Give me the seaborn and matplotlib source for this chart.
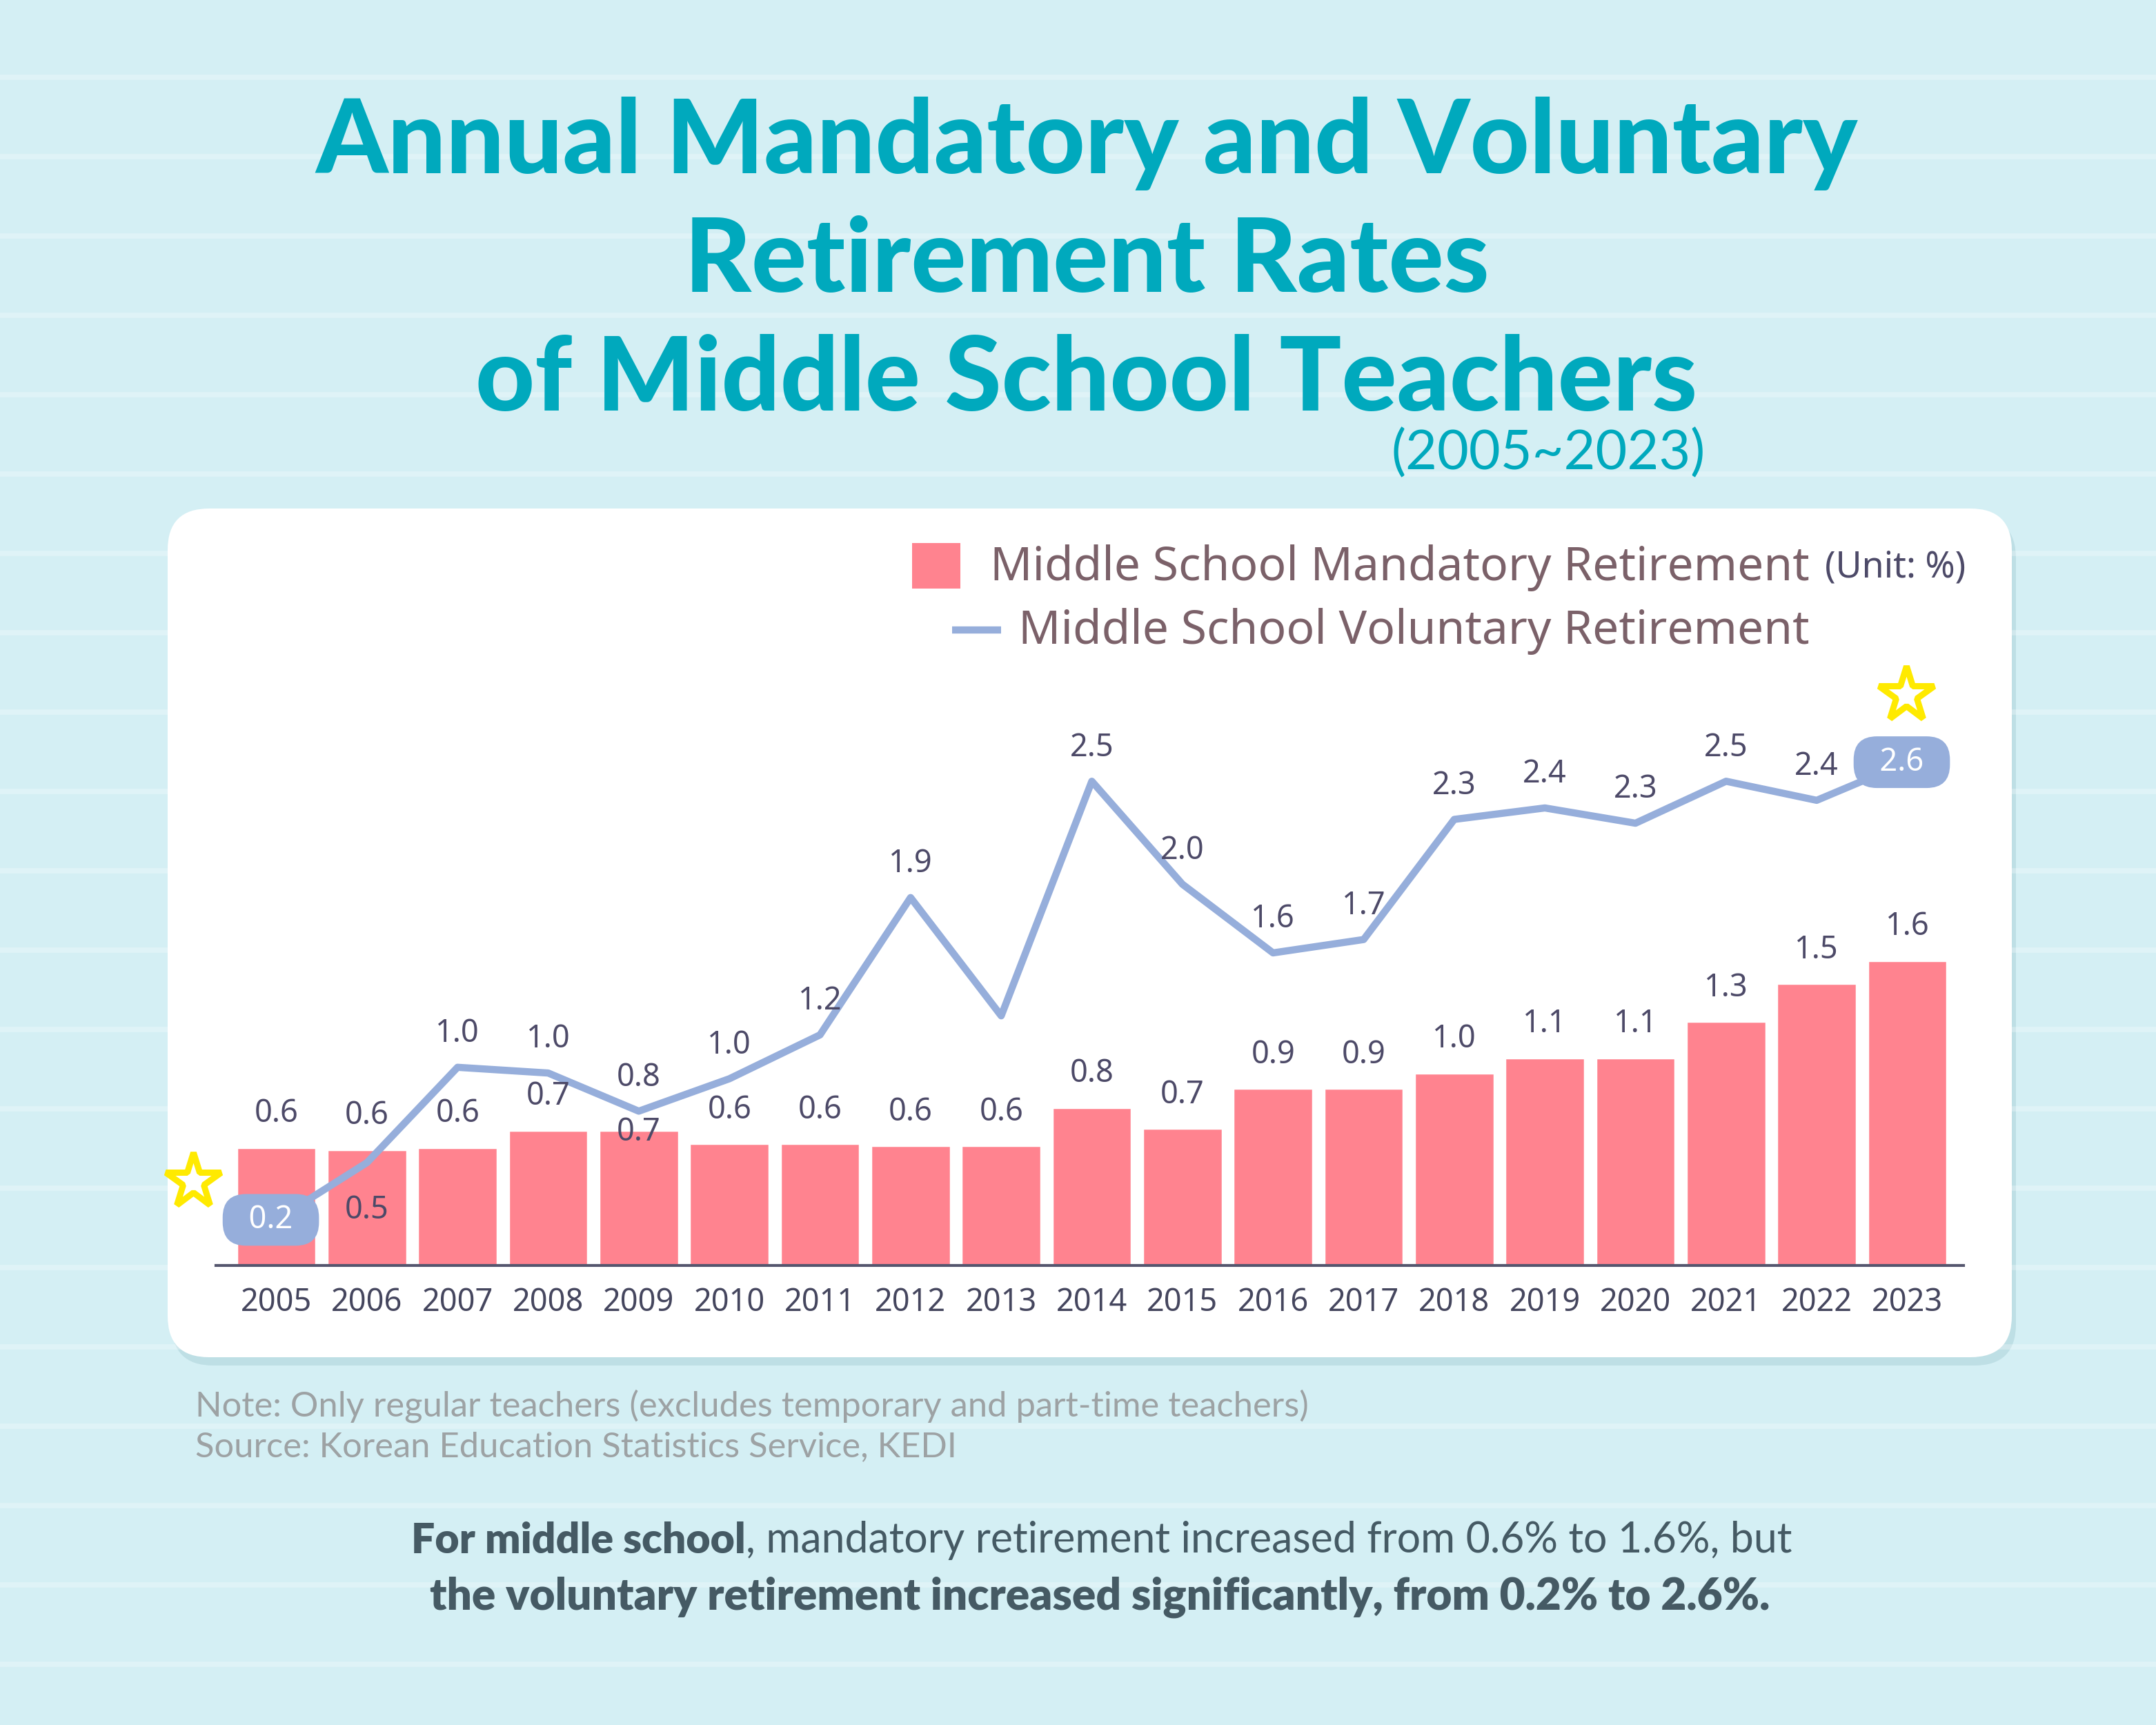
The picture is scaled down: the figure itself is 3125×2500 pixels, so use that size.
import numpy as np
import pandas as pd
import seaborn as sns
import matplotlib.pyplot as plt
from matplotlib.patches import FancyBboxPatch, Rectangle

# data (unit: %)
years = [str(y) for y in range(2005, 2024)]
mandatory = [0.62, 0.61, 0.62, 0.71, 0.71, 0.64, 0.64, 0.63, 0.63, 0.83,
             0.72, 0.93, 0.93, 1.01, 1.09, 1.09, 1.28, 1.48, 1.60]
voluntary = [0.24, 0.54, 1.04, 1.01, 0.81, 0.98, 1.21, 1.93, 1.31, 2.54,
             2.00, 1.64, 1.71, 2.34, 2.40, 2.32, 2.54, 2.44, 2.64]

title_lines = ["Annual Mandatory and Voluntary", "Retirement Rates", "of Middle School Teachers"]
subtitle = "(2005~2023)"
legend_bar = "Middle School Mandatory Retirement"
legend_line = "Middle School Voluntary Retirement"
unit = "(Unit: %)"
note = "Note: Only regular teachers (excludes temporary and part-time teachers)"
source = "Source: Korean Education Statistics Service, KEDI"
summary_bold = "For middle school"
summary_rest = ", mandatory retirement increased from 0.6% to 1.6%, but"
summary_2 = "the voluntary retirement increased significantly, from 0.2% to 2.6%."

BG = "#d4eff4"
TEAL = "#00a9bd"
PINK = "#ff838f"
BLUE = "#96aedb"
NUM = "#4d4a68"
LEG = "#7b6169"
DARK = "#455a64"

sns.set_style("white")
plt.rcParams["font.family"] = ["Noto Sans", "DejaVu Sans"]

df = pd.DataFrame({"year": years, "mandatory": mandatory, "voluntary": voluntary})
df["pos"] = np.arange(len(df))

fig = plt.figure(figsize=(12.5, 10), dpi=250)
fig.patch.set_facecolor(BG)

# background (pixel coords, origin top-left)
bg = fig.add_axes([0, 0, 1, 1], zorder=-10)
bg.set_xlim(0, 3125)
bg.set_ylim(2500, 0)
bg.axis("off")
for y in np.arange(112, 2500, 115):
    bg.axhline(y, color="white", alpha=0.28, lw=2.2)
bg.add_patch(FancyBboxPatch((249, 749), 2673, 1230, boxstyle="round,pad=0,rounding_size=60",
                            fc="#b9dbe2", ec="none", alpha=0.8))
bg.add_patch(FancyBboxPatch((243, 737), 2673, 1230, boxstyle="round,pad=0,rounding_size=60",
                            fc="white", ec="none"))

# main chart
ax = fig.add_axes([0.1001, 0.2663, 0.8106, 0.3206])
ax.patch.set_alpha(0)
sns.barplot(data=df, x="year", y="mandatory", color=PINK, saturation=1, width=0.88, ax=ax, zorder=2)
sns.lineplot(data=df, x="pos", y="voluntary", color=BLUE, lw=3, ax=ax, zorder=3)
ax.set_xlim(-0.668, 18.62)
ax.set_ylim(0, 2.9)
ax.set_xlabel("")
ax.set_ylabel("")
ax.set_yticks([])
sns.despine(ax=ax, left=True)
ax.spines["bottom"].set_color("#55566e")
ax.spines["bottom"].set_linewidth(1.2)
ax.tick_params(axis="x", length=0, pad=9)
for t in ax.get_xticklabels():
    t.set_fontsize(13)
    t.set_fontweight("semibold")
    t.set_color("#45465e")

# bar labels
for i, v in enumerate(mandatory):
    dy = 14
    if years[i] == "2009":
        dy = -1
    ax.annotate(f"{v:.1f}", (i, v), xytext=(0, dy), textcoords="offset points",
                ha="center", va="center", fontsize=13, fontweight="medium", color=NUM, zorder=5)

# line labels
for i, v in enumerate(voluntary):
    y = years[i]
    if y in ("2005", "2023"):
        ax.annotate(f"  {v:.1f}  ", (i, v), xytext=(-2.3, 0), textcoords="offset points",
                    ha="center", va="center", fontsize=13, fontweight="medium", color="white",
                    zorder=6,
                    bbox=dict(boxstyle="round,pad=0.32,rounding_size=0.75", fc=BLUE, ec="none"))
        continue
    if y == "2013":
        continue
    dy = -20 if y == "2006" else 14
    ax.annotate(f"{v:.1f}", (i, v), xytext=(0, dy), textcoords="offset points",
                ha="center", va="center", fontsize=13, fontweight="medium", color=NUM, zorder=5)

# overlay for legend marks and stars
top = fig.add_axes([0, 0, 1, 1], zorder=10)
top.set_xlim(0, 3125)
top.set_ylim(2500, 0)
top.axis("off")
top.add_patch(Rectangle((1322, 787), 70, 66, fc=PINK, ec="none"))
top.plot([1380, 1451], [913, 913], color=BLUE, lw=3, solid_capstyle="butt")
for sx, sy in [(280, 1712), (2763, 1007)]:
    top.plot(sx, sy, marker="*", ms=24, mfc="none", mec="#ffea00", mew=2.6)

# texts
for yy, line in zip([0.917, 0.848, 0.779], title_lines):
    fig.text(0.504, yy, line, ha="center", va="center", fontsize=43, fontweight="black",
             family=["Lato", "DejaVu Sans"], color=TEAL)
fig.text(0.791, 0.737, subtitle, ha="right", va="center", fontsize=22.8, color=TEAL,
         family=["Lato", "DejaVu Sans"])
fig.text(0.8393, 0.6707, legend_bar, ha="right", va="center", fontsize=19.5, color=LEG)
fig.text(0.8463, 0.6707, unit, ha="left", va="center", fontsize=15, color=NUM)
fig.text(0.8393, 0.634, legend_line, ha="right", va="center", fontsize=19.5, color=LEG)

fig.text(0.0906, 0.185, note, ha="left", va="center", fontsize=14.6, color="#9da2a4",
         family=["Lato", "DejaVu Sans"])
fig.text(0.0906, 0.161, source, ha="left", va="center", fontsize=14.6, color="#9da2a4",
         family=["Lato", "DejaVu Sans"])

t1 = fig.text(0, 0.1069, summary_bold, ha="left", va="center", fontsize=17.5, color=DARK,
              fontweight="heavy", family=["Lato", "DejaVu Sans"])
t2 = fig.text(0, 0.1069, summary_rest, ha="left", va="center", fontsize=17.5, color=DARK,
              family=["Lato", "DejaVu Sans"])
r = fig.canvas.get_renderer()
w1 = t1.get_window_extent(r).width
w2 = t2.get_window_extent(r).width
W = fig.get_figwidth() * fig.dpi
x0 = 0.511 * W - (w1 + w2) / 2
t1.set_x(x0 / W)
t2.set_x((x0 + w1) / W)
fig.text(0.510, 0.0742, summary_2, ha="center", va="center", fontsize=18.4, color=DARK,
         fontweight="heavy", family=["Lato", "DejaVu Sans"])

plt.savefig("out.png", dpi=250, facecolor=BG)
